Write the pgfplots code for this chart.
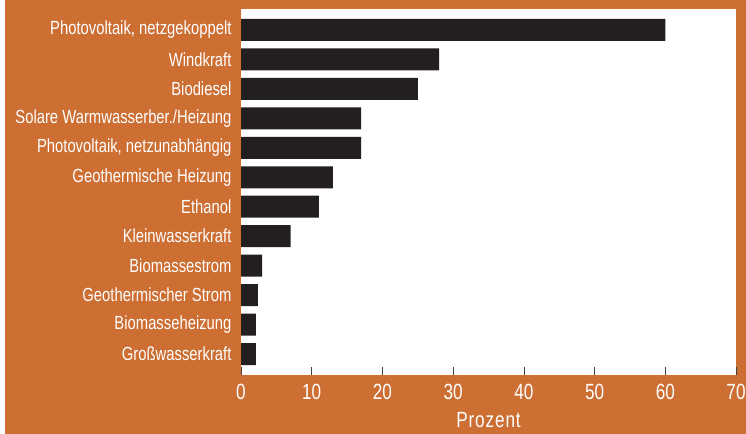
\documentclass[border=0pt]{standalone}
\usepackage{pgfplots}
\pgfplotsset{compat=1.18}
\usepackage{fontspec}
\setmainfont{Liberation Sans}[FakeStretch=0.78]
\newfontfamily\spaced{Liberation Sans}[FakeStretch=0.78, LetterSpace=4]
\definecolor{bg}{RGB}{205,110,51}
\definecolor{barc}{RGB}{35,31,32}
\begin{document}
\begin{tikzpicture}[x=1bp,y=1bp]
\useasboundingbox (0,0) rectangle (746,434);
\fill[bg] (5,0) rectangle (746,434);
\begin{axis}[
  at={(241bp,59bp)}, anchor=south west,
  scale only axis, width=495bp, height=366bp,
  xmin=0, xmax=70, ymin=-0.71, ymax=11.71, y dir=reverse,
  xbar, bar width=22bp, bar shift=0pt,
  axis background/.style={fill=white},
  axis line style={draw=none},
  xtick={0,10,...,70}, xtick pos=lower, tick align=inside,
  major tick length=8bp,
  x tick style={black!75, line width=0.7bp},
  ytick={0,...,11},
  yticklabels={{Photovoltaik, netzgekoppelt},Windkraft,Biodiesel,{Solare Warmwasserber./Heizung},{Photovoltaik, netzunabhängig},{Geothermische Heizung},Ethanol,Kleinwasserkraft,Biomassestrom,{Geothermischer Strom},Biomasseheizung,Großwasserkraft},
  y tick style={draw=none},
  y tick label style={white, font=\fontsize{19bp}{22bp}\selectfont, xshift=-6bp},
  x tick label style={white, font=\fontsize{22bp}{25bp}\selectfont, yshift=-6bp},
  /pgf/number format/assume math mode=true,
  xlabel={Prozent},
  xlabel style={white, font=\spaced\fontsize{22bp}{25bp}\selectfont, yshift=-8bp, inner sep=1bp},
]
\addplot[fill=barc, draw=none] coordinates {
(60,0) (28,1) (25,2) (17,3) (17,4) (13,5) (11,6) (7,7) (3,8) (2.4,9) (2.1,10) (2.1,11)};
\end{axis}
\end{tikzpicture}
\end{document}
